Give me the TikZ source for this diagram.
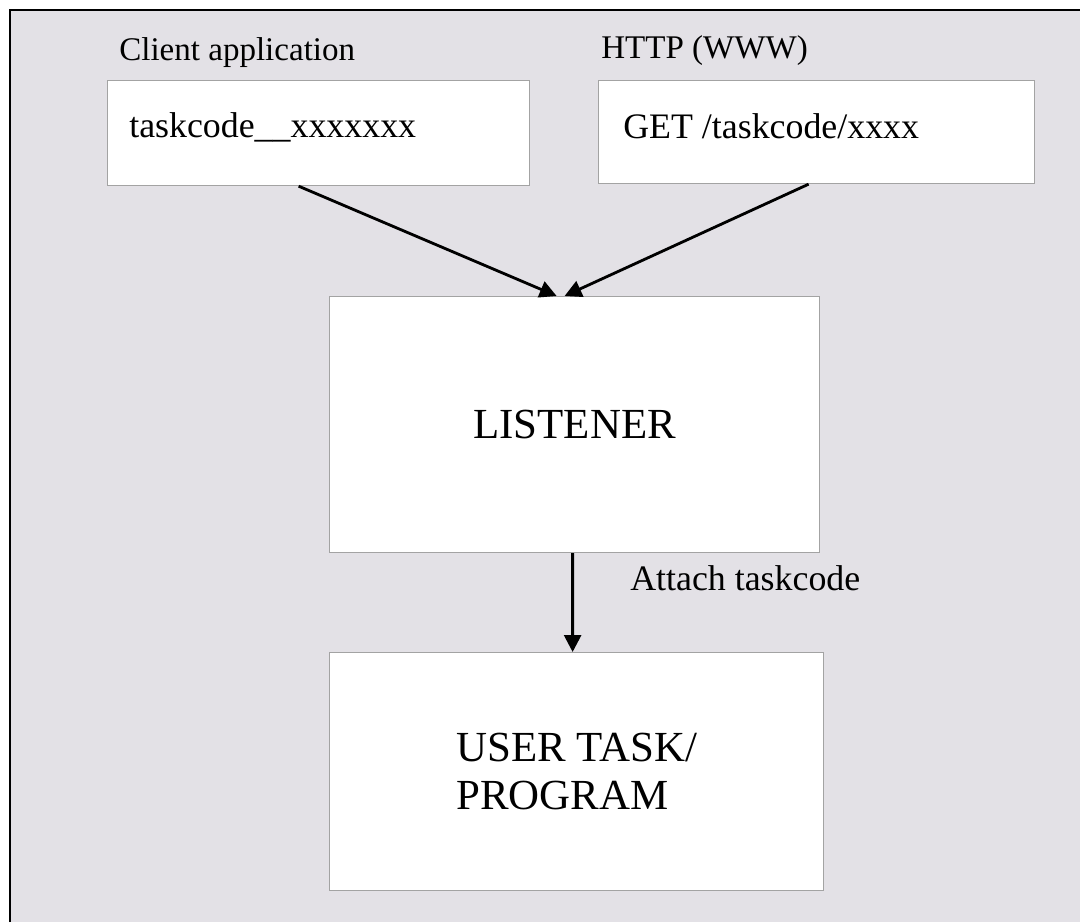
\documentclass[tikz,border=0pt]{standalone}
\usepackage{fontspec}
\setmainfont{Liberation Serif}
\usetikzlibrary{arrows.meta,calc}
\definecolor{panelgray}{HTML}{E3E1E6}
\definecolor{boxedge}{HTML}{A3A3A3}
\tikzset{
  box/.style={draw=boxedge, line width=0.8pt, fill=white, inner sep=0pt},
  head/.style={inner sep=0pt, anchor=base west, font=\fontsize{23.5}{28}\selectfont},
  txt/.style={inner sep=0pt, anchor=base west, font=\fontsize{25.5}{30}\selectfont},
  bigtxt/.style={font=\fontsize{30.5}{34}\selectfont, align=left},
  flow/.style={line width=2pt, -{Triangle[length=12pt,width=12pt]}}
}
\begin{document}
\begin{tikzpicture}[x=0.025cm, y=-0.025cm]
    \useasboundingbox (0,0) rectangle (1080,922);
    % Panel
    \fill[panelgray] (10,10) rectangle (1080,922);
    \draw[line width=2pt] (10,922) -- (10,10) -- (1080,10);

    % Sources
    \node[head] (clienthead) at (119,60) {Client application};
    \node[box, anchor=north west, minimum width=10.55cm, minimum height=2.625cm] (client) at (107,80) {};
    \node[txt] (clientmsg) at (129,137) {taskcode\_\_xxxxxxx};
    \node[head] (httphead) at (601,58) {HTTP (WWW)};
    \node[box, anchor=north west, minimum width=10.9cm, minimum height=2.575cm] (http) at (598,80) {};
    \node[txt] (httpmsg) at (623,138) {GET /taskcode/xxxx};

    % Listener and task
    \node[box, bigtxt, anchor=north west, minimum width=12.25cm, minimum height=6.4cm] (listener) at (329,296) {LISTENER};
    \node[box, bigtxt, anchor=north west, minimum width=12.35cm, minimum height=5.95cm] (task) at (329,652) {USER TASK/\\PROGRAM};
    \node[txt] (attach) at (630,590) {Attach taskcode};

    % Flow
    \draw[flow] ($(client.south)+(-20,0)$) -- ($(listener.north)+(-18,0)$);
    \draw[flow] ($(http.south)+(-8,0)$) -- ($(listener.north)+(-10,0)$);
    \draw[flow] ($(listener.south)+(-2,0)$) -- ($(task.north)+(-4,0)$);
\end{tikzpicture}
\end{document}
